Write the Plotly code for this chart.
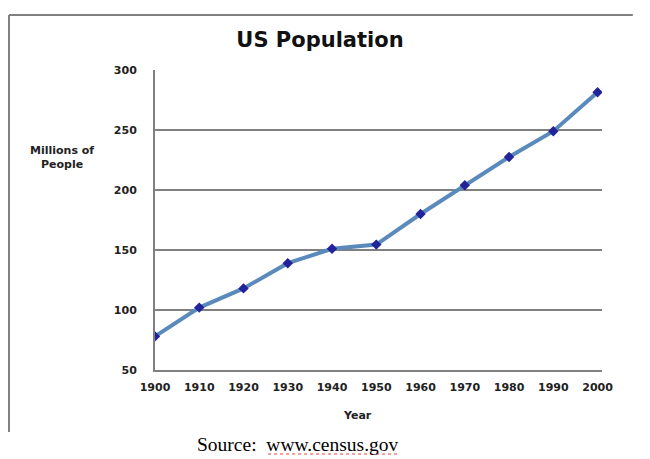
import plotly.graph_objects as go

# data
years = [1900, 1910, 1920, 1930, 1940, 1950, 1960, 1970, 1980, 1990, 2000]
population = [78, 102, 118, 139, 151, 154.5, 180, 204, 227.5, 249, 281.5]
y_ticks = [50, 100, 150, 200, 250, 300]

gray = '#808080'
tick_font = dict(family='DejaVu Sans', size=11, color='#222222', weight='bold')

fig = go.Figure()

fig.add_trace(go.Scatter(
    x=years,
    y=population,
    mode='lines+markers',
    line=dict(color='#5a8abb', width=4),
    marker=dict(symbol='diamond', size=8, color='#22229a',
                line=dict(width=0)),
    showlegend=False,
))

# the page shows the figure about 8px in from the corner, so the margins
# are pulled in by that much
fig.update_layout(
    width=650,
    height=459,
    margin=dict(l=147, r=56, t=62, b=97),
    paper_bgcolor='white',
    plot_bgcolor='white',
    title=dict(text='<b>US Population</b>', x=0.48, xanchor='center',
               y=1 - 32 / 459, yanchor='middle',
               font=dict(family='DejaVu Sans', size=21, color='#111111')),
    xaxis=dict(range=[1900, 2001], tickvals=years,
               ticktext=[str(y) for y in years],
               showgrid=False, zeroline=False, showline=True,
               linecolor=gray, linewidth=2, ticks='',
               tickfont=tick_font, ticklabelstandoff=6),
    yaxis=dict(range=[50, 300], tickvals=y_ticks,
               showgrid=True, gridcolor=gray, gridwidth=2,
               zeroline=False, showline=True, linecolor=gray, linewidth=2,
               ticks='', tickfont=tick_font, ticklabelstandoff=14),
)

# axis titles and source note
fig.add_annotation(text='<b>Millions of</b><br><b>People</b>',
                   xref='paper', yref='paper', x=-0.208, y=0.707,
                   xanchor='center', yanchor='middle',
                   showarrow=False, align='center',
                   font=dict(family='DejaVu Sans', size=11, color='#222222'))
fig.add_annotation(text='<b>Year</b>', xref='paper', yref='paper',
                   x=0.452, y=-0.153, xanchor='center', yanchor='middle',
                   showarrow=False,
                   font=dict(family='DejaVu Sans', size=11, color='#222222'))
fig.add_annotation(text='Source:  www.census.gov', xref='paper', yref='paper',
                   x=0.32, y=-0.247, xanchor='center', yanchor='middle',
                   showarrow=False,
                   font=dict(family='Liberation Serif', size=19.5, color='black'))

# spell-check squiggle under the url
fig.add_shape(type='line', xref='paper', yref='paper',
              x0=0.253, x1=0.548, y0=-0.28, y1=-0.28,
              line=dict(color='#e04040', width=1, dash='dot'))

# outer frame (left and top edges only)
fig.add_shape(type='line', xref='paper', yref='paper',
              x0=-0.3266, x1=-0.3266, y0=1.183, y1=-0.207,
              line=dict(color=gray, width=2))
fig.add_shape(type='line', xref='paper', yref='paper',
              x0=-0.3266, x1=1.069, y0=1.183, y1=1.183,
              line=dict(color=gray, width=2))

fig.write_html('out.html')
